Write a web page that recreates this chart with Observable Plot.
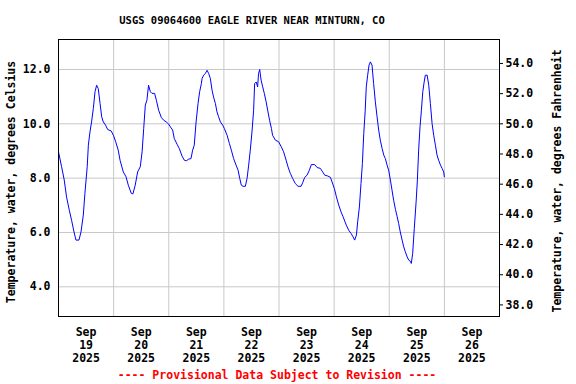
<!DOCTYPE html>
<html><head><meta charset="utf-8">
<script src="https://cdn.jsdelivr.net/npm/d3@7"></script>
<script src="https://cdn.jsdelivr.net/npm/@observablehq/plot@0.6"></script>
<style>
body{margin:0;background:#fff;}
#wrap{position:relative;width:576px;height:384px;overflow:hidden;font-family:"DejaVu Sans Mono",monospace;font-weight:bold;background:#fff;}
#title{position:absolute;left:0;width:504px;top:14px;text-align:center;font-size:10.5px;line-height:12px;color:#000;white-space:pre;}
#chart{position:absolute;left:0;top:30px;}
#caption{position:absolute;left:0;width:554px;top:369px;text-align:center;font-size:11.5px;line-height:13px;color:#f00;white-space:pre;}
</style></head><body>
<div id="wrap">
<div id="title">USGS 09064600 EAGLE RIVER NEAR MINTURN, CO</div>
<div id="chart"></div>
<div id="caption">---- Provisional Data Subject to Revision ----</div>
</div>
<script>
const startTime = "2025-09-19T00:00:00Z";
const hours = [0,1.35,2.5,3.5,4.7,5.7,6.75,7.6,8.9,9.8,10.8,11.5,12.5,13.0,13.7,14.4,15.15,15.9,16.6,17.3,18.1,18.8,19.5,20.5,21.4,22.9,23.9,
24.9,26.0,26.8,28.2,29.4,30.4,31.7,32.4,33.4,34.45,35.6,36.4,37.1,37.8,38.5,39.2,40.0,40.7,41.85,42.6,43.6,44.8,45.8,46.9,47.95,
48.7,49.7,50.4,51.6,52.6,53.8,54.8,55.65,56.7,57.7,58.4,59.1,59.9,60.75,61.45,62.2,62.5,63.2,63.9,64.7,65.4,66.1,66.85,67.5,68.3,69.0,69.7,70.5,71.5,72.2,
73.4,74.4,75.25,76.25,77.3,78.2,78.9,79.6,80.35,81.35,82.1,82.8,83.5,84.3,84.95,85.4,86.1,86.7,87.1,87.6,88.2,88.9,89.6,90.4,91.2,91.9,92.7,93.2,94.4,95.85,
97.0,98.0,99.1,99.9,100.95,101.95,103.1,104.3,105.6,106.3,107.2,108.2,109.2,110.1,111.5,112.6,114.0,115.0,115.9,117.2,118.4,119.1,
120.1,121.0,122.0,123.0,123.9,124.6,125.3,126.3,127.4,128.25,128.95,129.7,130.25,131.0,131.7,132.3,132.9,133.5,134.0,134.6,135.2,135.8,136.5,137.2,137.95,138.7,139.4,140.1,140.9,141.6,142.3,143.05,143.75,
144.5,145.2,145.9,146.7,147.4,148.1,148.8,149.6,150.3,151.0,151.8,152.5,153.2,153.6,154.2,154.9,155.7,156.25,156.8,157.4,158.0,158.6,159.2,159.7,160.5,161.2,161.9,162.65,163.35,164.1,164.8,165.5,166.3,167.0,167.7,168.0];
const tempC = [8.97,8.42,7.93,7.31,6.82,6.45,6.02,5.72,5.72,6.02,6.64,7.44,8.42,9.21,9.70,10.07,10.56,11.18,11.42,11.30,10.75,10.26,10.07,9.95,9.79,9.74,9.58,
9.34,9.03,8.66,8.23,8.05,7.74,7.44,7.42,7.74,8.23,8.42,8.97,9.83,10.69,10.87,11.42,11.18,11.12,11.12,10.87,10.50,10.23,10.13,10.07,9.99,
9.89,9.77,9.46,9.25,9.09,8.81,8.66,8.64,8.70,8.72,9.03,9.21,10.07,10.75,11.18,11.48,11.67,11.79,11.85,11.97,11.85,11.67,11.24,10.99,10.75,10.44,10.26,10.07,9.95,9.83,
9.58,9.28,9.03,8.72,8.48,8.29,7.99,7.74,7.70,7.70,7.99,8.48,9.03,9.77,10.50,11.48,11.54,11.36,11.85,12.00,11.61,11.36,11.12,10.81,10.44,10.13,9.83,9.58,9.40,9.34,
9.15,8.97,8.66,8.42,8.17,7.99,7.80,7.70,7.70,7.83,8.03,8.11,8.29,8.50,8.50,8.39,8.36,8.23,8.11,8.08,8.03,7.86,
7.62,7.31,7.01,6.76,6.58,6.42,6.27,6.09,5.96,5.84,5.72,5.90,6.39,6.94,7.80,8.54,9.64,10.44,11.36,11.79,12.16,12.28,12.16,11.48,10.81,10.26,9.77,9.40,9.09,8.85,8.72,8.48,8.29,
7.93,7.56,7.19,6.85,6.60,6.33,6.02,5.72,5.47,5.29,5.10,4.98,4.94,4.86,5.23,6.15,7.13,7.93,9.03,9.89,10.50,11.18,11.54,11.79,11.79,11.42,10.75,10.01,9.58,9.21,8.85,8.66,8.48,8.36,8.23,8.05];
const dayGrid = ["2025-09-19","2025-09-20","2025-09-21","2025-09-22","2025-09-23","2025-09-24","2025-09-25","2025-09-26","2025-09-27"];
const dayLabels = ["2025-09-19T12:00Z","2025-09-20T12:00Z","2025-09-21T12:00Z","2025-09-22T12:00Z","2025-09-23T12:00Z","2025-09-24T12:00Z","2025-09-25T12:00Z","2025-09-26T12:00Z"];
const celsiusTicks = [4,6,8,10,12];
const fahrenheitTicks = [38,40,42,44,46,48,50,52,54];
const yDomain = [2.907, 13.104];

const t0 = new Date(startTime).getTime();
const data = hours.map((h, i) => ({date: new Date(t0 + h * 3600e3), temp: tempC[i]}));
const gridDates = dayGrid.map(d => new Date(d + "T00:00:00Z"));
const labelDates = dayLabels.map(d => new Date(d));
const fTicksInC = fahrenheitTicks.map(f => (f - 32) / 1.8);
const fmtDate = d3.utcFormat("%b\n%d\n%Y");

const chart = Plot.plot({
  width: 576, height: 334,
  marginLeft: 58, marginRight: 77, marginTop: 9, marginBottom: 48,
  style: {fontFamily: "'DejaVu Sans Mono', monospace", fontWeight: "bold", fontSize: "11.5px", background: "white", color: "black", overflow: "visible"},
  x: {type: "utc", domain: [gridDates[0], gridDates[gridDates.length - 1]], label: null},
  y: {domain: yDomain, label: null},
  marks: [
    Plot.gridX(gridDates, {stroke: "#c8c8c8", strokeOpacity: 1}),
    Plot.gridY(celsiusTicks, {stroke: "#c8c8c8", strokeOpacity: 1}),
    Plot.line(data, {x: "date", y: "temp", stroke: "#0000ff", strokeWidth: 1}),
    Plot.frame({stroke: "black"}),
    Plot.axisX(labelDates, {tickSize: 0, tickPadding: 10, tickFormat: fmtDate, lineHeight: 1.13, label: null}),
    Plot.axisY(celsiusTicks, {anchor: "left", tickSize: 0, tickPadding: 8, tickFormat: d => d.toFixed(1), label: null}),
    Plot.axisY(fTicksInC, {anchor: "right", tickSize: 3, tickPadding: 3, tickFormat: c => (c * 1.8 + 32).toFixed(1), label: null}),
    Plot.text(["Temperature, water, degrees Celsius"], {frameAnchor: "left", textAnchor: "middle", lineAnchor: "middle", rotate: -90, dx: -47, dy: 4, text: d => d}),
    Plot.text(["Temperature, water, degrees Fahrenheit"], {frameAnchor: "right", textAnchor: "middle", lineAnchor: "middle", rotate: -90, dx: 58, dy: 3, text: d => d})
  ]
});
document.getElementById("chart").appendChild(chart);
</script>
</body></html>
